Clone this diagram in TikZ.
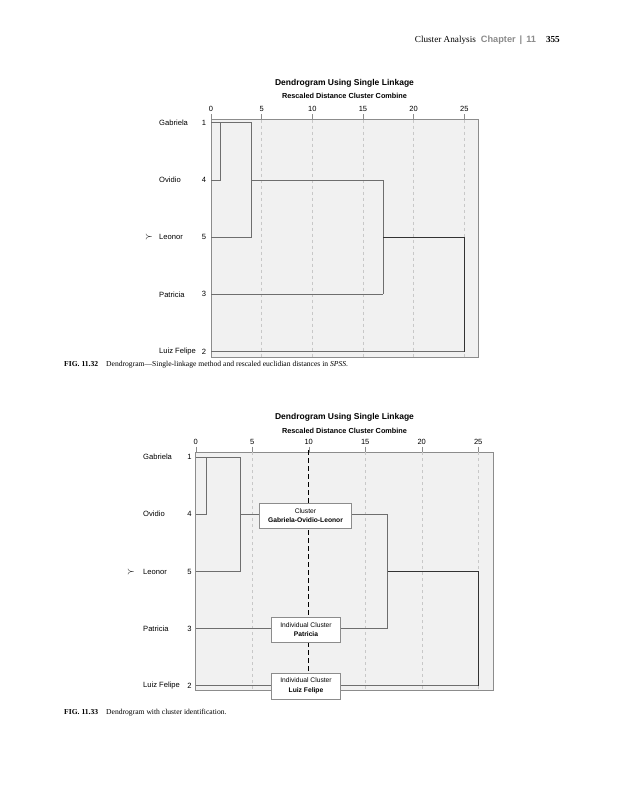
\documentclass[tikz,border=0pt]{standalone}
\usepackage{fontspec}
\setmainfont{Liberation Serif}
\setsansfont{Liberation Sans}
\usetikzlibrary{positioning}

\definecolor{plotbg}{HTML}{F1F1F1}
\definecolor{frameclr}{HTML}{8C8C8C}
\definecolor{linkclr}{HTML}{6E6E6E}
\definecolor{gridclr}{HTML}{C8C8C8}
\definecolor{chapclr}{HTML}{8A8A8A}

\newcommand{\fsz}[2]{\fontsize{#1}{#2}\selectfont}

\begin{document}
\begin{tikzpicture}[
    x=1pt, y=-1pt,
    title/.style={font=\sffamily\bfseries\fsz{8.5}{10}},
    subtitle/.style={font=\sffamily\bfseries\fsz{7.3}{9}},
    tick/.style={font=\sffamily\fsz{7.5}{9}},
    case/.style={font=\sffamily\fsz{7.6}{9}, anchor=west, inner sep=0pt},
    caseno/.style={font=\sffamily\fsz{7.6}{9}, inner sep=0pt},
    caption/.style={font=\rmfamily\fsz{7.6}{9}, anchor=west, inner sep=0pt},
    frame/.style={draw=frameclr, fill=plotbg, line width=0.8pt},
    grid/.style={draw=gridclr, dashed, line width=0.4pt},
    link/.style={draw=linkclr, line width=0.7pt},
    toplink/.style={draw=black!80, line width=0.7pt},
    tag/.style={draw=frameclr, fill=white, align=center, font=\sffamily\fsz{6.7}{9.5}, inner sep=1pt, minimum height=25.5pt, minimum width=69pt},
    cut/.style={draw=black, dash pattern=on 5pt off 3pt, line width=1pt}
  ]
    \useasboundingbox (0,0) rectangle (625,800);

    % running head
    \node[anchor=base east, inner sep=0pt, font=\rmfamily\fsz{9.2}{10}] (head) at (560,43)
      {Cluster Analysis\hspace{5pt}{\color{chapclr}\sffamily\bfseries Chapter\hspace{4pt}|\hspace{4pt}11}\hspace{10pt}\textbf{355}};

    % ---- FIG. 11.32 ----
    \node[title] (t1) at (344.5,83) {Dendrogram Using Single Linkage};
    \node[subtitle] (s1) at (344.5,96) {Rescaled Distance Cluster Combine};
    \draw[frame] (211,119.5) rectangle (478,357);
    \foreach \v in {5,10,...,25}
      \draw[grid] ({211+10.13*\v},119.5) -- ({211+10.13*\v},357);
    \foreach \v in {0,5,...,25} {
      \draw[frameclr] ({211+10.13*\v},114) -- ({211+10.13*\v},119.5);
      \node[tick] at ({211+10.13*\v},108.5) {\v};
    }
    \foreach \n/\k/\y [count=\i] in {Gabriela/1/122.7, Ovidio/4/180, Leonor/5/237.3, Patricia/3/294.3, Luiz Felipe/2/351.7} {
      \node[case] (na\i) at (159,\y) {\n};
      \node[caseno] (ka\i) at (204,\y) {\k};
      \coordinate (a\i) at (211,\y);
    }
    \node[inner sep=0pt] (mka) at (149,237.3) {$\succ$};
    \coordinate (am1) at (220.8,122.7);
    \coordinate (am2) at (251.5,122.7);
    \coordinate (am2b) at (251.5,180);
    \coordinate (am3) at (383.2,294.3);
    \coordinate (am3b) at (383.2,237.3);
    \coordinate (am4) at (464.3,351.7);
    \draw[link] (a2) -| (am1);
    \draw[link] (a1) -- (am2);
    \draw[link] (a3) -| (am2);
    \draw[link] (am2b) -| (am3);
    \draw[link] (a4) -- (am3);
    \draw[toplink] (am3b) -| (am4);
    \draw[link] (a5) -- (am4);
    \node[caption] (c1) at (64,365)
      {\textbf{FIG. 11.32}\hspace{8pt}Dendrogram---Single-linkage method and rescaled euclidian distances in \textit{SPSS}.};

    % ---- FIG. 11.33 ----
    \node[title] (t2) at (344.5,417) {Dendrogram Using Single Linkage};
    \node[subtitle] (s2) at (344.5,431) {Rescaled Distance Cluster Combine};
    \draw[frame] (195.7,452) rectangle (493.3,690.7);
    \foreach \v in {5,15,20,25}
      \draw[grid] ({195.7+11.3*\v},452) -- ({195.7+11.3*\v},690.7);
    \foreach \v in {0,5,...,25} {
      \draw[frameclr] ({195.7+11.3*\v},446.5) -- ({195.7+11.3*\v},452);
      \node[tick] at ({195.7+11.3*\v},441.5) {\v};
    }
    \foreach \n/\k/\y [count=\i] in {Gabriela/1/457, Ovidio/4/514.2, Leonor/5/571.5, Patricia/3/628.5, Luiz Felipe/2/685.7} {
      \node[case] (nb\i) at (143,\y) {\n};
      \node[caseno] (kb\i) at (189.5,\y) {\k};
      \coordinate (b\i) at (195.7,\y);
    }
    \node[inner sep=0pt] (mkb) at (131,571.5) {$\succ$};
    \coordinate (bm1) at (206.7,457);
    \coordinate (bm2) at (240,457);
    \coordinate (bm2b) at (240,514.2);
    \coordinate (bm3) at (387.7,628.5);
    \coordinate (bm3b) at (387.7,571.5);
    \coordinate (bm4) at (478.3,685.7);
    \draw[link] (b2) -| (bm1);
    \draw[link] (b1) -- (bm2);
    \draw[link] (b3) -| (bm2);
    \draw[link] (bm2b) -| (bm3);
    \draw[link] (b4) -- (bm3);
    \draw[toplink] (bm3b) -| (bm4);
    \draw[link] (b5) -- (bm4);
    % cut at distance 10
    \coordinate (cuttop) at (308.7,450);
    \coordinate (cutbot) at (308.7,690);
    \draw[cut] (cuttop) -- (cutbot);
    \node[tag, minimum width=92pt] (grp) at (305.5,515.5) {Cluster\\\textbf{Gabriela-Ovidio-Leonor}};
    \node[tag] (pat) at (306,629.5) {Individual Cluster\\\textbf{Patricia}};
    \node[tag] (lfe) at (306,686) {Individual Cluster\\\textbf{Luiz Felipe}};
    \node[caption] (c2) at (64,713)
      {\textbf{FIG. 11.33}\hspace{8pt}Dendrogram with cluster identification.};
  \end{tikzpicture}
\end{document}
